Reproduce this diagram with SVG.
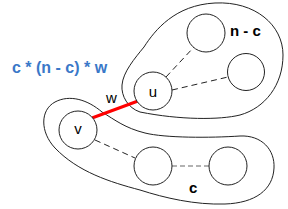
<svg xmlns="http://www.w3.org/2000/svg" width="288" height="209" viewBox="0 0 288 209">
<style>
.blob{fill:none;stroke:#222;stroke-width:1}
.node{fill:#fff;stroke:#222;stroke-width:1}
.dash{stroke:#222;stroke-width:1;stroke-dasharray:6 4;fill:none}
.gdash{stroke:#999;stroke-width:1.5;stroke-dasharray:5 3;fill:none}
.lbl{font-family:"Liberation Sans",Arial,sans-serif;font-size:15px;fill:#000}
.bold{font-family:"Liberation Sans",Arial,sans-serif;font-size:15px;font-weight:bold;fill:#000}
</style>
<rect width="288" height="209" fill="#fff"/>
<g id="groups">
<path class="blob" d="M140,112 C128,108 121,96 122,85 C123,72 135,58 144,47 C155,30 175,5 215,3 C255,1 283,25 283,55 C283,85 265,108 240,115 C220,120 180,120 140,112 Z"/>
<path class="blob" d="M102,112 C115,120 125,128 145,133 C165,138 210,138 240,136 C262,135 275,150 274,168 C273,190 255,203 225,204 C195,205 165,198 140,190 C110,182 78,172 55,148 C40,132 40,110 55,102 C70,94 88,100 102,112 Z"/>
</g>
<g id="connectors">
<line class="dash" x1="166" y1="77" x2="194" y2="47"/>
<line class="dash" x1="172" y1="90" x2="228" y2="77"/>
<line class="dash" x1="95" y1="140" x2="135" y2="158"/>
<line class="gdash" x1="172" y1="166" x2="209" y2="166"/>
<line x1="92" y1="118" x2="138" y2="101" stroke="#ff0000" stroke-width="3"/>
<text class="lbl" x="106" y="103">w</text>
</g>
<g id="node-nc1"><circle class="node" cx="206" cy="33" r="19"/></g>
<g id="node-nc2"><circle class="node" cx="246" cy="72" r="18.5"/></g>
<g id="node-u"><circle class="node" cx="153" cy="91" r="19"/><text class="lbl" x="153" y="97" text-anchor="middle">u</text></g>
<g id="node-v"><circle class="node" cx="78" cy="130" r="19"/><text class="lbl" x="78" y="134" text-anchor="middle">v</text></g>
<g id="node-c1"><circle class="node" cx="153" cy="166" r="19"/></g>
<g id="node-c2"><circle class="node" cx="228" cy="166" r="19"/></g>
<text class="bold" x="230" y="36">n - c</text>
<text class="bold" x="189" y="193">c</text>
<text class="bold" x="12" y="73" style="fill:#3a78c8;font-size:16px">c * (n - c) * w</text>
</svg>
